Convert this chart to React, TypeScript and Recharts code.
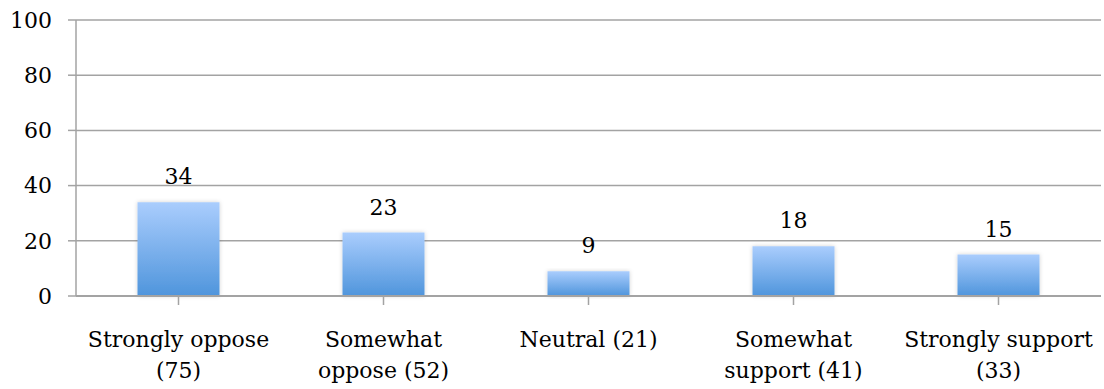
import React from "react";
import { BarChart, Bar, XAxis, YAxis, CartesianGrid, LabelList } from "recharts";

// Survey responses: share of respondents (%) per answer, with counts in the labels
const categories = [
  "Strongly oppose\n(75)",
  "Somewhat\noppose (52)",
  "Neutral (21)",
  "Somewhat\nsupport (41)",
  "Strongly support\n(33)",
];
const percentages = [34, 23, 9, 18, 15];
const yTicks = [0, 20, 40, 60, 80, 100];

const data = categories.map((label, i) => ({ label, value: percentages[i] }));

const FONT = "DejaVu Serif";
const FONT_SIZE = 22;
const AXIS_GRAY = "#a3a3a3";

const CategoryTick = (props: any) => {
  const { x, y, payload } = props;
  const lines = String(payload.value).split("\n");
  return (
    <text
      x={x}
      y={y}
      textAnchor="middle"
      fill="#000"
      style={{ fontFamily: FONT, fontSize: FONT_SIZE }}
    >
      {lines.map((line: string, i: number) => (
        <tspan key={i} x={x} y={y + 40 + i * 31}>
          {line}
        </tspan>
      ))}
    </text>
  );
};

export default function App() {
  return (
    <div style={{ position: "absolute", left: 0, top: 0, background: "#fff", fontFamily: FONT }}>
      <BarChart
        width={1104}
        height={389}
        data={data}
        margin={{ top: 20, right: 3, left: 0, bottom: 0 }}
        barCategoryGap="30%"
        style={{ fontFamily: FONT }}
      >
        <defs>
          <linearGradient id="barFill" x1="0" y1="0" x2="0" y2="1">
            <stop offset="0%" stopColor="#aacdfd" />
            <stop offset="100%" stopColor="#4f95dc" />
          </linearGradient>
          <filter id="barShadow" x="-10%" y="-10%" width="120%" height="120%">
            <feDropShadow dx="0" dy="0" stdDeviation="2" floodColor="#000" floodOpacity="0.18" />
          </filter>
        </defs>
        <CartesianGrid vertical={false} stroke={AXIS_GRAY} strokeWidth={1.5} />
        <XAxis
          dataKey="label"
          height={93}
          interval={0}
          tickSize={9}
          tickLine={{ stroke: AXIS_GRAY, strokeWidth: 1.5 }}
          axisLine={{ stroke: AXIS_GRAY, strokeWidth: 2 }}
          tick={<CategoryTick />}
        />
        <YAxis
          width={76}
          domain={[0, 100]}
          ticks={yTicks}
          interval={0}
          tickSize={8}
          tickMargin={16}
          tickLine={{ stroke: AXIS_GRAY, strokeWidth: 1.5 }}
          axisLine={{ stroke: AXIS_GRAY, strokeWidth: 1.5 }}
          tick={{ fill: "#000", fontFamily: FONT, fontSize: FONT_SIZE }}
        />
        <Bar
          dataKey="value"
          fill="url(#barFill)"
          filter="url(#barShadow)"
          isAnimationActive={false}
        >
          <LabelList
            dataKey="value"
            position="top"
            offset={18}
            fill="#000"
            fontFamily={FONT}
            fontSize={FONT_SIZE}
          />
        </Bar>
      </BarChart>
    </div>
  );
}
